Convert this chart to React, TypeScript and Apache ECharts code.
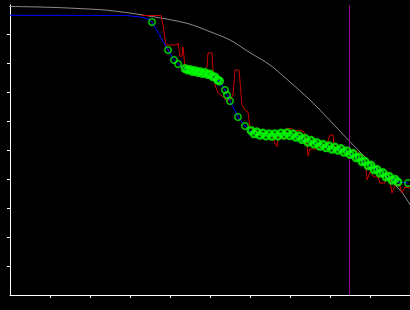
import React, { useEffect, useRef } from "react";
import * as echarts from "echarts";

// Axis ticks (no labels shown in the reference)
const xTicks = [1, 2, 3, 4, 5, 6, 7, 8, 9];
const yTicks = [1, 2, 3, 4, 5, 6, 7, 8, 9];

// Gray reference curve
const grayCurve: number[][] = [
  [-0.25, 9.955], [1.0, 9.921], [2.1, 9.852], [2.5, 9.81], [3.325, 9.655],
  [4.425, 9.369], [5.0, 9.08], [5.5, 8.793], [6.0, 8.355], [6.5, 7.931],
  [7.0, 7.345], [7.5, 6.724], [7.75, 6.379], [8.5, 5.286], [9.075, 4.483],
  [9.75, 3.621], [10.0, 3.114],
];

// Vertical marker position
const markerX = 8.4875;

// Blue fitted line
const blueLine: number[][] = [
  [0, 9.645], [2.9, 9.638], [3.25, 9.586], [3.45, 9.517],
  [3.55, 9.414], [3.95, 8.448], [4.1, 8.103], [4.2, 7.966],
  [4.4, 7.793], [4.55, 7.741], [4.7, 7.707], [4.85, 7.655], [5.0, 7.603],
  [5.15, 7.483], [5.225, 7.379], [5.375, 7.069], [5.425, 6.897], [5.5, 6.69],
  [5.7, 6.138], [5.875, 5.828], [6.05, 5.621], [6.25, 5.552], [6.45, 5.517],
  [6.65, 5.517], [6.85, 5.552], [7.05, 5.517], [7.25, 5.431], [7.45, 5.31],
  [7.65, 5.224], [7.85, 5.138], [8.05, 5.069], [8.25, 5.017], [8.45, 4.914],
  [8.65, 4.776], [8.85, 4.586], [9.05, 4.414], [9.25, 4.241], [9.45, 4.069],
  [9.65, 3.931], [9.7, 3.897], [9.95, 3.862],
];

// Green circle observations: isolated points
const circlesIsolated: number[][] = [
  [3.55, 9.414], [3.95, 8.448], [4.1, 8.103], [4.2, 7.966],
  [5.375, 7.069], [5.425, 6.897], [5.5, 6.69], [5.7, 6.138], [5.875, 5.828],
  [9.95, 3.862],
];

// Green circle observations: first dense cluster
const circlesBand1: number[][] = [
  [4.375, 7.81], [4.438, 7.759], [4.5, 7.776], [4.563, 7.707], [4.625, 7.741],
  [4.688, 7.672], [4.75, 7.707], [4.813, 7.638], [4.875, 7.672], [4.938, 7.603],
  [5.0, 7.621], [5.063, 7.534], [5.125, 7.517], [5.188, 7.414], [5.238, 7.379],
];

// Green circle observations: second dense cluster
const circlesBand2: number[][] = [
  [6.025, 5.672], [6.1, 5.559], [6.175, 5.624], [6.25, 5.507], [6.325, 5.583],
  [6.4, 5.483], [6.475, 5.562], [6.55, 5.472], [6.625, 5.562], [6.7, 5.479],
  [6.775, 5.583], [6.85, 5.507], [6.925, 5.597], [7.0, 5.49], [7.075, 5.555],
  [7.15, 5.438], [7.225, 5.49], [7.3, 5.362], [7.375, 5.407], [7.45, 5.266],
  [7.525, 5.331], [7.6, 5.207], [7.675, 5.255], [7.75, 5.128], [7.825, 5.193],
  [7.9, 5.076], [7.975, 5.141], [8.05, 5.024], [8.125, 5.1], [8.2, 4.99],
  [8.275, 5.048], [8.35, 4.921], [8.425, 4.972], [8.5, 4.845], [8.575, 4.886],
  [8.65, 4.731], [8.725, 4.755], [8.8, 4.593], [8.875, 4.61], [8.95, 4.455],
  [9.025, 4.479], [9.1, 4.317], [9.175, 4.334], [9.25, 4.197], [9.325, 4.221],
  [9.4, 4.069], [9.475, 4.097], [9.55, 3.955], [9.625, 3.993], [9.7, 3.897],
];

// Red raw signal
const redLine: number[][] = [
  [3.275, 9.638], [3.775, 9.638], [3.825, 9.31], [3.9, 8.621], [4.175, 8.621],
  [4.2, 8.69], [4.25, 8.241], [4.3, 8.241], [4.325, 8.552], [4.375, 7.862],
  [4.5, 7.759], [4.65, 7.69], [4.825, 7.655], [4.925, 7.862], [4.95, 8.345],
  [5.05, 8.345], [5.075, 7.759], [5.125, 7.241], [5.2, 6.966], [5.3, 6.862],
  [5.4, 6.724], [5.5, 6.724], [5.575, 6.897], [5.625, 7.759], [5.725, 7.759],
  [5.8, 6.552], [5.875, 6.379], [5.95, 6.31], [6.0, 5.793], [6.1, 5.655],
  [6.25, 5.586], [6.4, 5.552], [6.55, 5.517], [6.625, 5.241], [6.675, 5.103],
  [6.7, 5.414], [6.875, 5.379], [6.925, 5.759], [7.05, 5.724], [7.125, 5.655],
  [7.25, 5.69], [7.35, 5.621], [7.425, 5.207], [7.45, 4.793], [7.5, 5.034],
  [7.7, 5.034], [7.8, 5.138], [7.9, 5.138], [8.0, 5.517], [8.075, 5.517],
  [8.1, 5.138], [8.25, 5.0], [8.45, 4.931], [8.575, 5.0], [8.7, 4.931],
  [8.8, 4.724], [8.9, 4.379], [8.925, 3.966], [9.0, 4.241], [9.1, 4.069],
  [9.2, 4.069], [9.25, 3.862], [9.375, 3.862], [9.4, 4.241], [9.45, 4.241],
  [9.5, 3.966], [9.55, 3.517], [9.625, 3.793], [9.75, 3.759], [9.8, 3.517],
  [9.875, 3.724], [10.0, 3.69],
];

export default function App() {
  const ref = useRef<HTMLDivElement>(null);
  useEffect(() => {
    if (!ref.current) return;
    const chart = echarts.init(ref.current, null, { renderer: "svg" });
    const tickCommon = {
      show: true,
      inside: false,
      length: 3,
      lineStyle: { color: "#ffffff", width: 1 },
    };
    const axisCommon = {
      type: "value" as const,
      min: 0,
      max: 10,
      interval: 1,
      axisLine: { show: true, lineStyle: { color: "#ffffff", width: 1 } },
      axisLabel: { show: false },
      splitLine: { show: false },
    };
    const ring = (size: number, border: number) => ({
      type: "scatter" as const,
      symbol: "circle",
      symbolSize: size,
      itemStyle: {
        color: "rgba(0,0,0,0)",
        borderColor: "#00ff00",
        borderWidth: border,
      },
      z: 4,
    });
    chart.setOption({
      animation: false,
      backgroundColor: "#000000",
      grid: { left: 10, right: 0, top: 5, bottom: 15, containLabel: false },
      xAxis: { ...axisCommon, axisTick: { ...tickCommon, customValues: xTicks } },
      yAxis: { ...axisCommon, axisTick: { ...tickCommon, customValues: yTicks } },
      series: [
        {
          type: "line",
          data: grayCurve,
          smooth: 0.3,
          showSymbol: false,
          clip: false,
          lineStyle: { color: "#8c8c8c", width: 1 },
          z: 1,
        },
        {
          type: "line",
          data: [
            [markerX, 0],
            [markerX, 10],
          ],
          showSymbol: false,
          lineStyle: { color: "#8b008b", width: 1 },
          z: 1,
        },
        {
          type: "line",
          data: redLine,
          showSymbol: false,
          lineStyle: { color: "#cc0000", width: 1 },
          z: 2,
        },
        {
          type: "line",
          data: blueLine,
          showSymbol: false,
          lineStyle: { color: "#0000ff", width: 1 },
          z: 3,
        },
        { ...ring(6.5, 1.5), data: circlesIsolated },
        { ...ring(6.5, 2.5), data: circlesBand1 },
        { ...ring(6.5, 2.5), data: circlesBand2 },
      ],
    });
    return () => chart.dispose();
  }, []);
  return (
    <div
      ref={ref}
      style={{ position: "fixed", left: 0, top: 0, width: 410, height: 310 }}
    />
  );
}
